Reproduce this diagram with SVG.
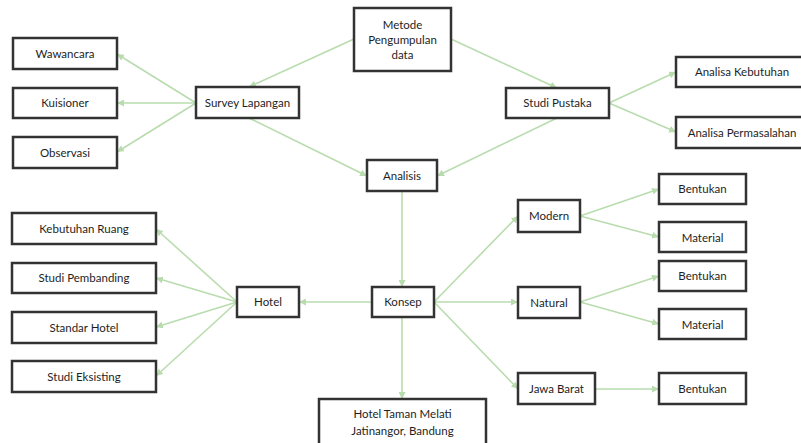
<svg xmlns="http://www.w3.org/2000/svg" width="801" height="443" viewBox="0 0 801 443">
<style>
.b{fill:#fff;stroke:#333;stroke-width:2.5}
.t{font-family:Lato,"Open Sans","Liberation Sans",sans-serif;font-size:11.5px;fill:#1e1e1e;text-anchor:middle}
.c{stroke:#b9dcae;stroke-width:1.6;fill:none;marker-end:url(#a)}
</style>
<defs>
<marker id="a" viewBox="0 0 10 10" refX="10" refY="5" markerWidth="7" markerHeight="7" markerUnits="userSpaceOnUse" orient="auto">
<path d="M0,0 L10,5 L0,10 z" fill="#b9dcae"/>
</marker>
</defs>
<rect width="801" height="443" fill="#fff"/>
<g id="connectors">
<line class="c" x1="354" y1="39" x2="249" y2="87"/>
<line class="c" x1="451" y1="39" x2="557" y2="88"/>
<line class="c" x1="196" y1="103" x2="117" y2="54"/>
<line class="c" x1="196" y1="103" x2="117" y2="103"/>
<line class="c" x1="196" y1="103" x2="117" y2="152"/>
<line class="c" x1="249" y1="118" x2="367" y2="176"/>
<line class="c" x1="557" y1="118" x2="437" y2="176"/>
<line class="c" x1="609" y1="103" x2="676" y2="72"/>
<line class="c" x1="609" y1="103" x2="676" y2="132"/>
<line class="c" x1="402" y1="191" x2="402" y2="287"/>
<line class="c" x1="372" y1="302" x2="299" y2="302"/>
<line class="c" x1="237" y1="302" x2="156" y2="229"/>
<line class="c" x1="237" y1="302" x2="156" y2="278"/>
<line class="c" x1="237" y1="302" x2="156" y2="327"/>
<line class="c" x1="237" y1="302" x2="156" y2="376"/>
<line class="c" x1="434" y1="302" x2="518" y2="216"/>
<line class="c" x1="434" y1="302" x2="518" y2="302"/>
<line class="c" x1="434" y1="302" x2="518" y2="389"/>
<line class="c" x1="402" y1="317" x2="402" y2="399"/>
<line class="c" x1="580" y1="216" x2="659" y2="189"/>
<line class="c" x1="580" y1="216" x2="659" y2="237"/>
<line class="c" x1="580" y1="302" x2="659" y2="276"/>
<line class="c" x1="580" y1="302" x2="659" y2="324"/>
<line class="c" x1="595" y1="389" x2="659" y2="389"/>
</g>
<g id="metode"><rect class="b" x="354" y="8" width="97" height="63"/><text class="t" x="402.5" y="29">Metode</text><text class="t" x="402.5" y="44">Pengumpulan</text><text class="t" x="402.5" y="59">data</text></g>
<g id="wawancara"><rect class="b" x="13" y="38" width="104" height="31"/><text class="t" x="65" y="58">Wawancara</text></g>
<g id="kuisioner"><rect class="b" x="13" y="88" width="104" height="30"/><text class="t" x="65" y="107">Kuisioner</text></g>
<g id="observasi"><rect class="b" x="13" y="137" width="104" height="31"/><text class="t" x="65" y="157">Observasi</text></g>
<g id="survey"><rect class="b" x="196" y="87" width="103" height="31"/><text class="t" x="247.5" y="107">Survey Lapangan</text></g>
<g id="studi-pustaka"><rect class="b" x="506" y="88" width="103" height="30"/><text class="t" x="557.5" y="107">Studi Pustaka</text></g>
<g id="analisa-kebutuhan"><rect class="b" x="676" y="57" width="132" height="30"/><text class="t" x="742" y="76">Analisa Kebutuhan</text></g>
<g id="analisa-permasalahan"><rect class="b" x="676" y="117" width="132" height="31"/><text class="t" x="742" y="137">Analisa Permasalahan</text></g>
<g id="analisis"><rect class="b" x="367" y="160" width="70" height="31"/><text class="t" x="402" y="180">Analisis</text></g>
<g id="kebutuhan-ruang"><rect class="b" x="12" y="213" width="144" height="31"/><text class="t" x="84" y="233">Kebutuhan Ruang</text></g>
<g id="studi-pembanding"><rect class="b" x="12" y="263" width="144" height="30"/><text class="t" x="84" y="282">Studi Pembanding</text></g>
<g id="standar-hotel"><rect class="b" x="12" y="312" width="144" height="31"/><text class="t" x="84" y="332">Standar Hotel</text></g>
<g id="studi-eksisting"><rect class="b" x="12" y="361" width="144" height="31"/><text class="t" x="84" y="381">Studi Eksisting</text></g>
<g id="hotel"><rect class="b" x="237" y="287" width="62" height="30"/><text class="t" x="268" y="306">Hotel</text></g>
<g id="konsep"><rect class="b" x="372" y="287" width="62" height="30"/><text class="t" x="403" y="306">Konsep</text></g>
<g id="hotel-taman"><rect class="b" x="319" y="399" width="167" height="50"/><text class="t" x="402.5" y="418">Hotel Taman Melati</text><text class="t" x="402.5" y="435">Jatinangor, Bandung</text></g>
<g id="modern"><rect class="b" x="518" y="200" width="62" height="32"/><text class="t" x="549" y="220">Modern</text></g>
<g id="natural"><rect class="b" x="518" y="287" width="62" height="31"/><text class="t" x="549" y="307">Natural</text></g>
<g id="jawa-barat"><rect class="b" x="518" y="373" width="77" height="31"/><text class="t" x="556.5" y="393">Jawa Barat</text></g>
<g id="bentukan1"><rect class="b" x="659" y="174" width="87" height="30"/><text class="t" x="702.5" y="193">Bentukan</text></g>
<g id="material1"><rect class="b" x="659" y="222" width="87" height="30"/><text class="t" x="702.5" y="242">Material</text></g>
<g id="bentukan2"><rect class="b" x="659" y="261" width="87" height="30"/><text class="t" x="702.5" y="280">Bentukan</text></g>
<g id="material2"><rect class="b" x="659" y="309" width="87" height="30"/><text class="t" x="702.5" y="329">Material</text></g>
<g id="bentukan3"><rect class="b" x="659" y="373" width="87" height="31"/><text class="t" x="702.5" y="393">Bentukan</text></g>
</svg>
